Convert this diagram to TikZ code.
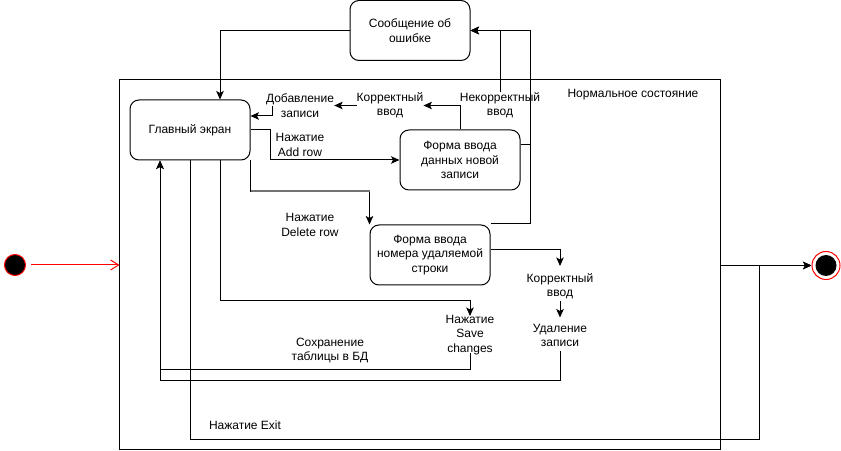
\documentclass[tikz,border=0pt]{standalone}
\usepackage{fontspec}
\setmainfont{Liberation Sans}
\usetikzlibrary{arrows.meta,calc}
\begin{document}
\begin{tikzpicture}[x=1bp,y=-1bp,
  every node/.style={font=\fontsize{12bp}{14.4bp}\selectfont, inner sep=0pt, align=center},
  statebox/.style={draw, rounded corners=9bp, minimum width=120bp, minimum height=60bp, line width=1bp},
  arr/.style={line width=1bp, -{Stealth[length=8.5bp,width=7.5bp,inset=2bp]}},
  hiline/.style={line width=2bp, draw=black!55},
  redarr/.style={line width=1bp, red, -{Straight Barb[length=8bp,width=10bp]}},
  ]
\useasboundingbox (0,0) rectangle (841,451);

% frame
\node[draw, line width=1bp, minimum width=600bp, minimum height=369bp] (frame) at (420,264.5) {};
\node (frameLbl) at (633,94.5) {Нормальное состояние};

% states
\node[statebox] (msg) at (410,30.5) {Сообщение об\\ошибке};
\node[statebox] (main) at (190,130) {Главный экран};
\node[statebox] (form1) at (460,160) {Форма ввода\\данных новой\\записи};
\node[statebox] (form2) at (430,255) {Форма ввода\\номера удаляемой\\строки};

% initial / final
\node[circle, draw=red, fill=black, line width=1bp, minimum size=21bp] (init) at (15,265) {};
\node[circle, draw=red, fill=white, line width=1bp, minimum size=28bp] (final) at (826,265.5) {};
\node[circle, fill=black, minimum size=21bp] (finalIn) at (final.center) {};

% labels
\node (lblNek) at (500,105.5) {Некорректный\\ввод};
\node (lblKor1) at (390,105.5) {Корректный\\ввод};
\node (lblAdd) at (300,105.5) {Добавление\\записи};
\node (lblAddRow) at (300,145) {Нажатие\\Add row};
\node (lblDelRow) at (310,225) {Нажатие\\Delete row};
\node (lblKor2) at (560,286) {Корректный\\ввод};
\node (lblDel) at (560,335.5) {Удаление\\записи};
\node (lblSave) at (470,335) {Нажатие\\Save\\changes};
\node (lblStore) at (330,350.5) {Сохранение\\таблицы в БД};
\node (lblExit) at (245,425) {Нажатие Exit};

% connectors
\draw[redarr, shorten <=5bp] (init.east) -- (frame.west |- init.east);
\draw[arr] (frame.east |- final.west) -- (final.west);
\draw[arr] (main.south) -- ++(0,279) -| ($(final.west)+(-52,0)$) -- (final.west);

\draw[arr] (msg.west) -| ($(main.north)+(30,0)$);
\draw[arr] (lblNek.north) |- (msg.east);
\draw[arr] ($(form1.east)+(0,-15)$) -| ($(msg.east)+(60,0)$) -- (msg.east);
\draw[arr] ($(form2.north east)+(0,-1)$) -| ($(msg.east)+(60,0)$) -- (msg.east);

\draw[arr] (form1.north) |- (lblKor1.east);
\draw[arr] (lblKor1.west) -- (lblAdd.east);
\draw[arr] ($(lblAdd.center)+(-28,0.5)$) |- ($(main.east)+(0,-14)$);

\draw[arr] (main.east) -- ++(20,0) |- (form1.west);
\draw[arr] (main.south east) -- ++(0,31) coordinate (dl1) -| (form2.north west);
\draw[hiline] (dl1) -- (dl1 -| form2.north west);

\draw[arr] ($(form2.east)+(0,-5)$) -| ($(lblKor2.center)+(0,-20)$);
\draw[arr] ($(lblKor2.center)+(0,15)$) -- ($(lblDel.center)+(0,-18)$);
\draw[arr] ($(lblDel.center)+(0,16)$) -- ++(0,29) -| ($(main.south)+(-30,0)$);

\draw[arr] ($(main.south)+(30,0)$) -- ++(0,140) -| ($(lblSave.center)+(0,-19)$);
\draw[arr] ($(lblSave.center)+(0,18)$) -- ++(0,17) -| ($(main.south)+(-30,0)$);
\end{tikzpicture}
\end{document}
